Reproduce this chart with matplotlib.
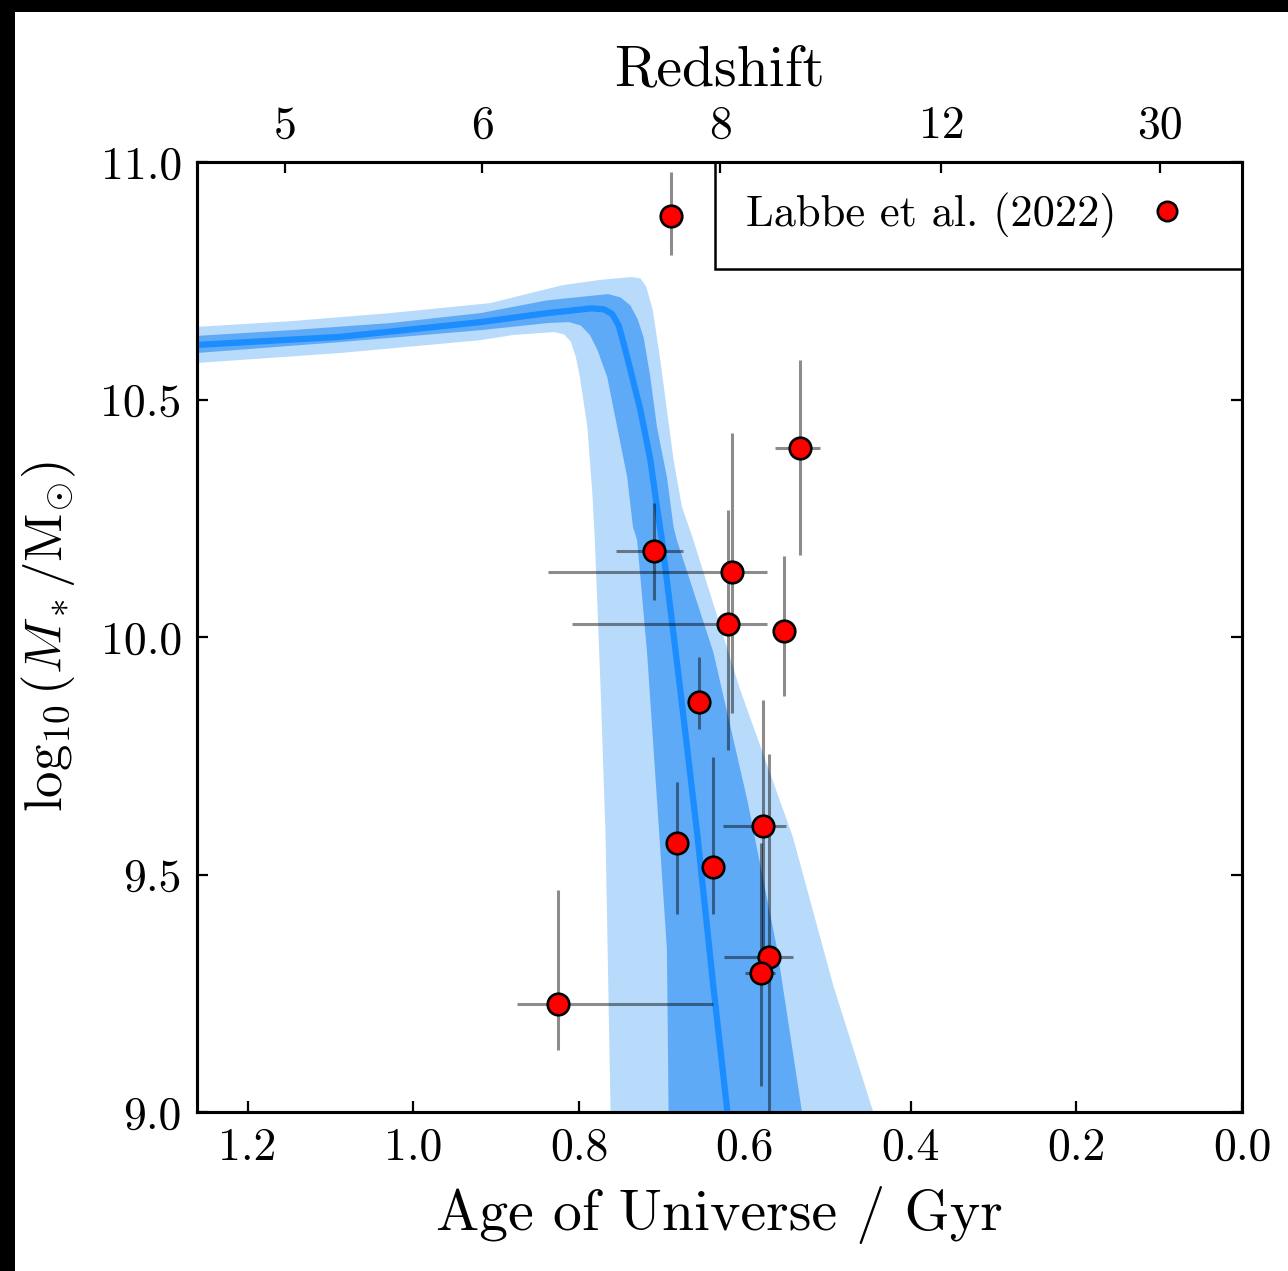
import numpy as np
import matplotlib
matplotlib.use("Agg")
import matplotlib.pyplot as plt
from matplotlib.patches import Rectangle

plt.rcParams["font.family"] = "serif"
plt.rcParams["font.serif"] = ["cmr10"]
plt.rcParams["mathtext.fontset"] = "cm"
plt.rcParams["axes.unicode_minus"] = False
plt.rcParams["axes.formatter.use_mathtext"] = True

# ---- model band: (age [Gyr], log10 M*) along each edge ----
outer_upper_age = [1.261, 1.148, 1.028, 0.907, 0.859, 0.819, 0.774, 0.736, 0.726, 0.719, 0.711,
                   0.702, 0.694, 0.686, 0.676, 0.662, 0.606, 0.542, 0.493, 0.445]
outer_upper_m = [10.653, 10.665, 10.682, 10.703, 10.724, 10.741, 10.752, 10.758, 10.755, 10.738, 10.688,
                 10.583, 10.478, 10.373, 10.275, 10.204, 9.891, 9.579, 9.265, 9.000]

inner_upper_age = [1.261, 1.148, 1.028, 0.919, 0.838, 0.765, 0.750, 0.738, 0.729, 0.722, 0.714,
                   0.706, 0.694, 0.686, 0.682, 0.638, 0.597, 0.561, 0.531]
inner_upper_m = [10.634, 10.646, 10.661, 10.682, 10.709, 10.722, 10.715, 10.698, 10.668, 10.630, 10.547,
                 10.442, 10.337, 10.232, 10.204, 9.968, 9.657, 9.343, 9.000]

median_age = [1.261, 1.088, 0.919, 0.838, 0.785, 0.770, 0.760, 0.752, 0.745, 0.738, 0.726, 0.714,
              0.706, 0.700, 0.678, 0.657, 0.638, 0.621]
median_m = [10.615, 10.632, 10.663, 10.682, 10.692, 10.690, 10.680, 10.655, 10.610, 10.562, 10.478, 10.373,
            10.274, 10.204, 9.891, 9.579, 9.265, 9.000]

inner_lower_age = [1.261, 1.088, 0.919, 0.838, 0.812, 0.798, 0.787, 0.778, 0.766, 0.754, 0.742,
                   0.735, 0.730, 0.718, 0.706, 0.694, 0.692]
inner_lower_m = [10.598, 10.621, 10.646, 10.661, 10.663, 10.656, 10.636, 10.605, 10.547, 10.442, 10.337,
                 10.232, 10.204, 9.968, 9.657, 9.343, 9.000]

outer_lower_age = [1.261, 1.088, 0.919, 0.879, 0.830, 0.818, 0.810, 0.804, 0.799, 0.790, 0.784,
                   0.781, 0.774, 0.768, 0.762]
outer_lower_m = [10.577, 10.598, 10.625, 10.636, 10.642, 10.637, 10.622, 10.590, 10.547, 10.442, 10.303,
                 10.204, 9.891, 9.579, 9.000]

# ---- Labbe et al. (2022) galaxies ----
gal_age = [0.689, 0.533, 0.709, 0.616, 0.620, 0.553, 0.655, 0.578, 0.682, 0.638, 0.571, 0.580, 0.825]
gal_age_lo = [0.000, 0.024, 0.035, 0.043, 0.047, 0.005, 0.006, 0.028, 0.012, 0.012, 0.029, 0.017, 0.187]
gal_age_hi = [0.000, 0.030, 0.046, 0.222, 0.189, 0.005, 0.006, 0.048, 0.012, 0.014, 0.054, 0.020, 0.050]
gal_mass = [10.886, 10.398, 10.181, 10.137, 10.027, 10.013, 9.863, 9.602, 9.566, 9.516, 9.326, 9.293, 9.227]
gal_mass_lo = [0.082, 0.225, 0.103, 0.297, 0.265, 0.137, 0.057, 0.265, 0.149, 0.099, 0.428, 0.238, 0.096]
gal_mass_hi = [0.093, 0.185, 0.101, 0.292, 0.240, 0.158, 0.095, 0.265, 0.129, 0.231, 0.428, 0.273, 0.240]

age_ticks = [1.2, 1.0, 0.8, 0.6, 0.4, 0.2, 0.0]
mass_ticks = [9.0, 9.5, 10.0, 10.5, 11.0]
redshift_ticks = [5, 6, 8, 12, 30]


def age_at_redshift(z, h0=70.0, om=0.3):
    """Age of a flat LCDM universe at redshift z, in Gyr."""
    ol = 1.0 - om
    hubble_time = 977.8 / h0
    return (2.0 / (3.0 * np.sqrt(ol))) * hubble_time * np.arcsinh(
        np.sqrt(ol / om) * (1.0 + np.asarray(z, float)) ** -1.5)


fig = plt.figure(figsize=(12.88, 12.71), dpi=100)
fig.patch.set_facecolor("white")
fig.patches.append(Rectangle((0, 1 - 12 / 1271), 1, 12 / 1271, transform=fig.transFigure,
                             facecolor="black", edgecolor="none", zorder=-5))
fig.patches.append(Rectangle((0, 0), 15 / 1288, 1, transform=fig.transFigure,
                             facecolor="black", edgecolor="none", zorder=-5))

ax = fig.add_axes([0.1530, 0.1251, 0.8113, 0.7474])

outer_poly_x = list(outer_upper_age) + list(outer_lower_age[::-1])
outer_poly_y = list(outer_upper_m) + list(outer_lower_m[::-1])
inner_poly_x = list(inner_upper_age) + list(inner_lower_age[::-1])
inner_poly_y = list(inner_upper_m) + list(inner_lower_m[::-1])

ax.fill(outer_poly_x, outer_poly_y, color="#b8dbfb", lw=0, zorder=1)
ax.fill(inner_poly_x, inner_poly_y, color="#5faaf7", lw=0, zorder=2)
ax.plot(median_age, median_m, color="#1c8dff", lw=4.5, solid_joinstyle="round",
        solid_capstyle="butt", zorder=3)

ax.errorbar(gal_age, gal_mass, xerr=[gal_age_lo, gal_age_hi], yerr=[gal_mass_lo, gal_mass_hi],
            fmt="none", ecolor="black", alpha=0.45, elinewidth=2.2, capsize=0, zorder=4)
ax.plot(gal_age, gal_mass, ls="none", marker="o", ms=15.5, mfc="red", mec="black", mew=1.9,
        label="Labbe et al. (2022)", zorder=5)

ax.set_xlim(1.261, 0.0)
ax.set_ylim(9.0, 11.0)
ax.set_xticks(age_ticks)
ax.set_xticklabels([f"{t:.1f}" for t in age_ticks])
ax.set_yticks(mass_ticks)
ax.set_yticklabels([f"{t:.1f}" for t in mass_ticks])

ax.tick_params(axis="both", which="major", direction="in", length=8, width=1.6,
               labelsize=33, pad=11)
ax.tick_params(axis="y", right=True, left=True)
ax.tick_params(axis="x", top=False)
for sp in ax.spines.values():
    sp.set_linewidth(2.2)

ax.set_xlabel("Age of Universe / Gyr", fontsize=41.5, labelpad=12)
ax.set_ylabel(r"$\log_{10}(M_*/\mathrm{M}_{\odot})$", fontsize=38, labelpad=16)

top = ax.twiny()
top.set_xlim(ax.get_xlim())
top.set_xticks(age_at_redshift(redshift_ticks))
top.set_xticklabels([str(z) for z in redshift_ticks])
top.tick_params(axis="x", direction="in", length=8, width=1.6, labelsize=33, pad=11)
top.set_xlabel("Redshift", fontsize=41.5, labelpad=14)
for sp in top.spines.values():
    sp.set_linewidth(2.2)

leg = ax.legend(loc="upper right", borderaxespad=0.0, fancybox=False, framealpha=1.0,
                edgecolor="black", fontsize=32, markerfirst=False, handlelength=2.0,
                handletextpad=0.13, borderpad=0.69, numpoints=1, markerscale=0.9)
leg.get_frame().set_linewidth(1.8)

fig.savefig("out.png", dpi=100, facecolor=fig.get_facecolor())
